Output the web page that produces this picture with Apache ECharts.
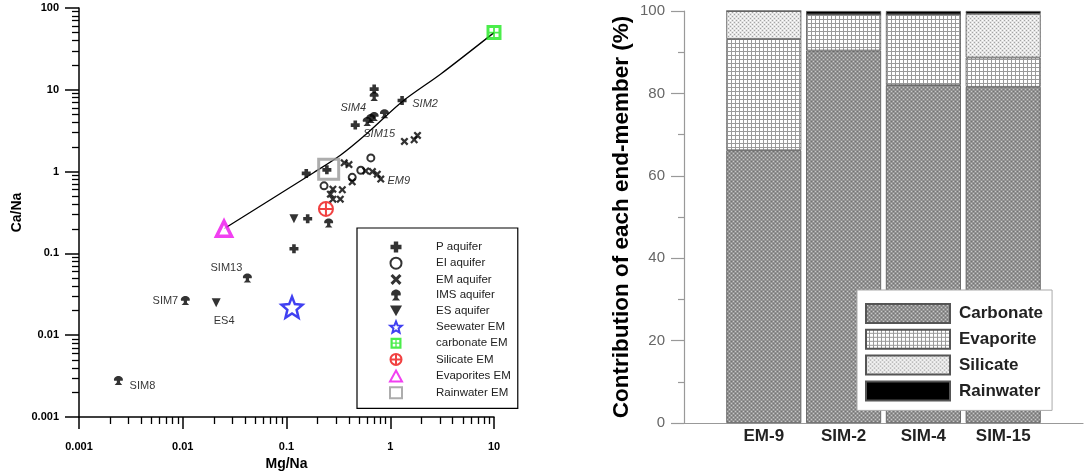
<!DOCTYPE html>
<html>
<head>
<meta charset="utf-8">
<script src="https://cdn.jsdelivr.net/npm/echarts@6/dist/echarts.min.js"></script>
<style>
  html, body { margin: 0; padding: 0; background: #fff; }
  #main { width: 1086px; height: 476px; }
</style>
</head>
<body>
<div id="main"></div>
<script>
// ---- left panel: Ca/Na vs Mg/Na ----
const xTickLabels = ['0.001', '0.01', '0.1', '1', '10'];
const yTickLabels = ['0.001', '0.01', '0.1', '1', '10', '100'];

// [Mg/Na, Ca/Na, label]
const pAquifer = [[0.155, 0.95], [0.245, 1.05], [0.46, 3.7], [1.3, 7.4, 'SIM2'], [0.16, 0.265], [0.118, 0.114], [0.7, 10.2]];
const eiAquifer = [[0.65, 1.47], [0.52, 1.04], [0.43, 0.85], [0.23, 0.67]];
const emAquifer = [[1.37, 2.34], [1.7, 2.45], [1.83, 2.77], [0.36, 1.28], [0.4, 1.22], [0.58, 1.02], [0.673, 1.0],
  [0.75, 0.93], [0.81, 0.81, 'EM9'], [0.43, 0.75], [0.28, 0.61], [0.345, 0.6], [0.265, 0.53], [0.33, 0.46], [0.28, 0.46]];
const imsAquifer = [[0.7, 8.3], [0.88, 5.1], [0.6, 4.1, 'SIM4'], [0.65, 4.45], [0.7, 4.7, 'SIM15'], [0.255, 0.235],
  [0.042, 0.05, 'SIM13'], [0.0106, 0.0265, 'SIM7'], [0.0024, 0.0028, 'SIM8']];
const esAquifer = [[0.118, 0.265], [0.021, 0.025, 'ES4']];
const seawaterEM = [[0.113, 0.022]];
const carbonateEM = [[10, 50]];
const silicateEM = [[0.24, 0.35]];
const evaporitesEM = [[0.025, 0.2]];
const rainwaterEM = [[0.255, 1.07]];
const mixLine = [[0.025, 0.2], [0.182, 0.97], [0.333, 1.6], [0.6, 2.95], [1.31, 7.2], [3.07, 15.6], [10, 50]];

// ---- right panel: contribution of end-members ----
const categories = ['EM-9', 'SIM-2', 'SIM-4', 'SIM-15'];
const carbonate = [66.2, 90.4, 82.0, 81.6];
const evaporite = [27.0, 8.8, 17.2, 7.1];
const silicate = [6.8, 0, 0, 10.6];
const rainwater = [0, 0.8, 0.8, 0.7];

const pointLabels = {
  SIM2: { offset: [23, 3], fontStyle: 'italic' },
  SIM4: { offset: [-14, -14], fontStyle: 'italic' },
  SIM15: { offset: [5, 17], fontStyle: 'italic' },
  EM9: { offset: [18, 2], fontStyle: 'italic' },
  SIM13: { offset: [-21, -10] },
  SIM7: { offset: [-20, 0] },
  ES4: { offset: [8, 18] },
  SIM8: { offset: [24, 6] }
};

function toItems(arr) {
  return arr.map(function (p) {
    const item = { value: [p[0], p[1]] };
    if (p[2]) {
      item.name = p[2];
      item.label = Object.assign({
        show: true, position: 'inside', formatter: '{b}', color: '#000', fontSize: 11
      }, pointLabels[p[2]]);
    }
    return item;
  });
}

function pattern(draw) {
  const c = document.createElement('canvas');
  c.width = 4; c.height = 4;
  const ctx = c.getContext('2d');
  draw(ctx);
  return { image: c, repeat: 'repeat' };
}
function px(ctx, col, pts) {
  ctx.fillStyle = col;
  pts.forEach(function (p) { ctx.fillRect(p[0], p[1], 1, 1); });
}
const carbonateFill = pattern(function (ctx) {
  ctx.fillStyle = '#939393'; ctx.fillRect(0, 0, 4, 4);
  px(ctx, '#c8c8c8', [[1, 1], [3, 3]]);
  px(ctx, '#747474', [[1, 3], [3, 1]]);
});
const evaporiteFill = pattern(function (ctx) {
  ctx.fillStyle = '#ffffff'; ctx.fillRect(0, 0, 4, 4);
  ctx.fillStyle = '#9a9a9a'; ctx.fillRect(3, 0, 1, 4); ctx.fillRect(0, 3, 4, 1);
});
const silicateFill = pattern(function (ctx) {
  ctx.fillStyle = '#e4e4e4'; ctx.fillRect(0, 0, 4, 4);
  px(ctx, '#a4a4a4', [[0, 0], [2, 2]]);
  px(ctx, '#ffffff', [[0, 2], [2, 0]]);
});

const SYM_PLUS = 'path://M3,0H7V3H10V7H7V10H3V7H0V3H3Z';
const SYM_X = 'path://M0,2L2,0L5,3L8,0L10,2L7,5L10,8L8,10L5,7L2,10L0,8L3,5Z';
const SYM_IMS = 'path://M1,5C0,2 3,0 5,0C7,0 10,2 9,5L6.5,5L6.5,7L8.5,9.5L1.5,9.5L3.5,7L3.5,5Z';
const SYM_DOWN = 'path://M0,0H10L5,9Z';
const SYM_STAR = 'path://M10,0L12.6,6.4L19.5,6.9L14.2,11.4L15.9,18.1L10,14.5L4.1,18.1L5.8,11.4L0.5,6.9L7.4,6.4Z';
const SYM_GRID = 'path://M0,0H10V10H0ZM2,2V4.4H4.4V2ZM5.6,2V4.4H8V2ZM2,5.6V8H4.4V5.6ZM5.6,5.6V8H8V5.6Z';
const SYM_CROSSCIRCLE = 'path://M0,10A10,10,0,1,1,20,10A10,10,0,1,1,0,10ZM10,0V20M0,10H20';

const leftNames = ['P aquifer', 'EI aquifer', 'EM aquifer', 'IMS aquifer', 'ES aquifer',
  'Seewater EM', 'carbonate EM', 'Silicate EM', 'Evaporites EM', 'Rainwater EM'];
const rightNames = ['Carbonate', 'Evaporite', 'Silicate', 'Rainwater'];

function logIndex(v) { return Math.round(Math.log10(v)) + 3; }

const chart = echarts.init(document.getElementById('main'));
const blackAxis = { lineStyle: { color: '#000', width: 1.5 } };

function scatter(name, data, symbol, size, style) {
  return {
    name: name, type: 'scatter', xAxisIndex: 0, yAxisIndex: 0,
    symbol: symbol, symbolSize: size, data: toItems(data), itemStyle: style, z: 3
  };
}
function bar(name, values, fill) {
  return {
    name: name, type: 'bar', xAxisIndex: 1, yAxisIndex: 1, stack: 'em', barWidth: 75,
    data: categories.map(function (c, i) { return [c, values[i]]; }),
    itemStyle: { color: fill, borderColor: '#555', borderWidth: 0.8 }
  };
}

chart.setOption({
  animation: false,
  backgroundColor: '#fff',
  textStyle: { fontFamily: 'Arial, "Liberation Sans", sans-serif' },
  grid: [
    { left: 79, top: 8, width: 415, height: 415 },
    { left: 684, top: 11, width: 412.5, height: 412 }
  ],
  legend: [
    {
      data: leftNames, orient: 'vertical', left: 357, top: 228, selectedMode: false,
      itemWidth: 12, itemHeight: 11, itemGap: 3.7, padding: [13, 7, 9, 32],
      borderColor: '#000', borderWidth: 1.2, backgroundColor: '#fff',
      textStyle: { fontSize: 11.5, lineHeight: 11, color: '#222', padding: [0, 0, 0, 29] }
    },
    {
      data: rightNames, orient: 'vertical', left: 857, top: 290, selectedMode: false, icon: 'rect',
      itemWidth: 84, itemHeight: 19, itemGap: 4.8, padding: [13, 9, 9, 8],
      borderColor: '#aaa', borderWidth: 1, backgroundColor: '#fff',
      textStyle: { fontSize: 17, lineHeight: 19, fontWeight: 'bold', color: '#222', padding: [0, 0, 0, 4] }
    }
  ],
  xAxis: [
    {
      gridIndex: 0, type: 'log', logBase: 10, min: 0.001, max: 10,
      name: 'Mg/Na', nameLocation: 'middle', nameGap: 40,
      nameTextStyle: { fontWeight: 'bold', fontSize: 14, color: '#000' },
      axisLine: blackAxis,
      axisTick: { length: 12, lineStyle: { color: '#000', width: 1.5 } },
      minorTick: { show: true, splitNumber: 9, length: 7, lineStyle: { color: '#000', width: 1.3 } },
      axisLabel: { margin: 24, fontSize: 11, fontWeight: 'bold', color: '#000',
        formatter: function (v) { return xTickLabels[logIndex(v)]; } },
      splitLine: { show: false }
    },
    {
      gridIndex: 1, type: 'category', boundaryGap: false, data: [''].concat(categories, ['']),
      axisLine: { lineStyle: { color: '#999', width: 1.2 } },
      axisTick: { show: false },
      axisLabel: { interval: 0, margin: 5, fontSize: 17, fontWeight: 'bold', color: '#222' },
      splitLine: { show: false }
    }
  ],
  yAxis: [
    {
      gridIndex: 0, type: 'log', logBase: 10, min: 0.001, max: 100,
      name: 'Ca/Na', nameLocation: 'middle', nameGap: 55,
      nameTextStyle: { fontWeight: 'bold', fontSize: 14, color: '#000' },
      axisLine: blackAxis,
      axisTick: { length: 14, lineStyle: { color: '#000', width: 1.5 } },
      minorTick: { show: true, splitNumber: 9, length: 7, lineStyle: { color: '#000', width: 1.3 } },
      axisLabel: { margin: 20, fontSize: 11, fontWeight: 'bold', color: '#000',
        formatter: function (v) { return yTickLabels[logIndex(v)]; } },
      splitLine: { show: false }
    },
    {
      gridIndex: 1, type: 'value', min: 0, max: 100, interval: 20,
      name: 'Contribution of each end-member (%)', nameLocation: 'middle', nameGap: 51,
      nameTextStyle: { fontWeight: 'bold', fontSize: 22.5, color: '#000' },
      axisLine: { show: true, lineStyle: { color: '#999', width: 1.2 } },
      axisTick: { show: true, length: 13, lineStyle: { color: '#999', width: 1.2 } },
      minorTick: { show: true, splitNumber: 2, length: 6, lineStyle: { color: '#999', width: 1.2 } },
      axisLabel: { margin: 19, fontSize: 15, color: '#666' },
      splitLine: { show: false }
    }
  ],
  series: [
    {
      name: 'mixing', type: 'line', xAxisIndex: 0, yAxisIndex: 0, data: mixLine,
      showSymbol: false, smooth: 0.3, lineStyle: { color: '#000', width: 1.3 }, z: 2, silent: true
    },
    scatter('P aquifer', pAquifer, SYM_PLUS, 9, { color: '#000' }),
    scatter('EI aquifer', eiAquifer, 'emptyCircle', 7, { color: '#000', borderWidth: 1.5 }),
    scatter('EM aquifer', emAquifer, SYM_X, 8, { color: '#000' }),
    scatter('IMS aquifer', imsAquifer, SYM_IMS, 9, { color: '#000' }),
    scatter('ES aquifer', esAquifer, SYM_DOWN, 9, { color: '#000' }),
    scatter('Seewater EM', seawaterEM, SYM_STAR, 21, { color: '#fff', borderColor: '#1010ee', borderWidth: 2.5 }),
    scatter('carbonate EM', carbonateEM, SYM_GRID, 15, { color: '#1ee81e' }),
    scatter('Silicate EM', silicateEM, SYM_CROSSCIRCLE, 14, { color: '#fff', borderColor: '#ee1111', borderWidth: 2 }),
    scatter('Evaporites EM', evaporitesEM, 'triangle', 15, { color: '#fff', borderColor: '#ee10ee', borderWidth: 3.5 }),
    scatter('Rainwater EM', rainwaterEM, 'rect', 20, { color: 'rgba(255,255,255,0)', borderColor: '#999', borderWidth: 3 }),
    bar('Carbonate', carbonate, carbonateFill),
    bar('Evaporite', evaporite, evaporiteFill),
    bar('Silicate', silicate, silicateFill),
    bar('Rainwater', rainwater, '#000')
  ]
});
</script>
</body>
</html>
